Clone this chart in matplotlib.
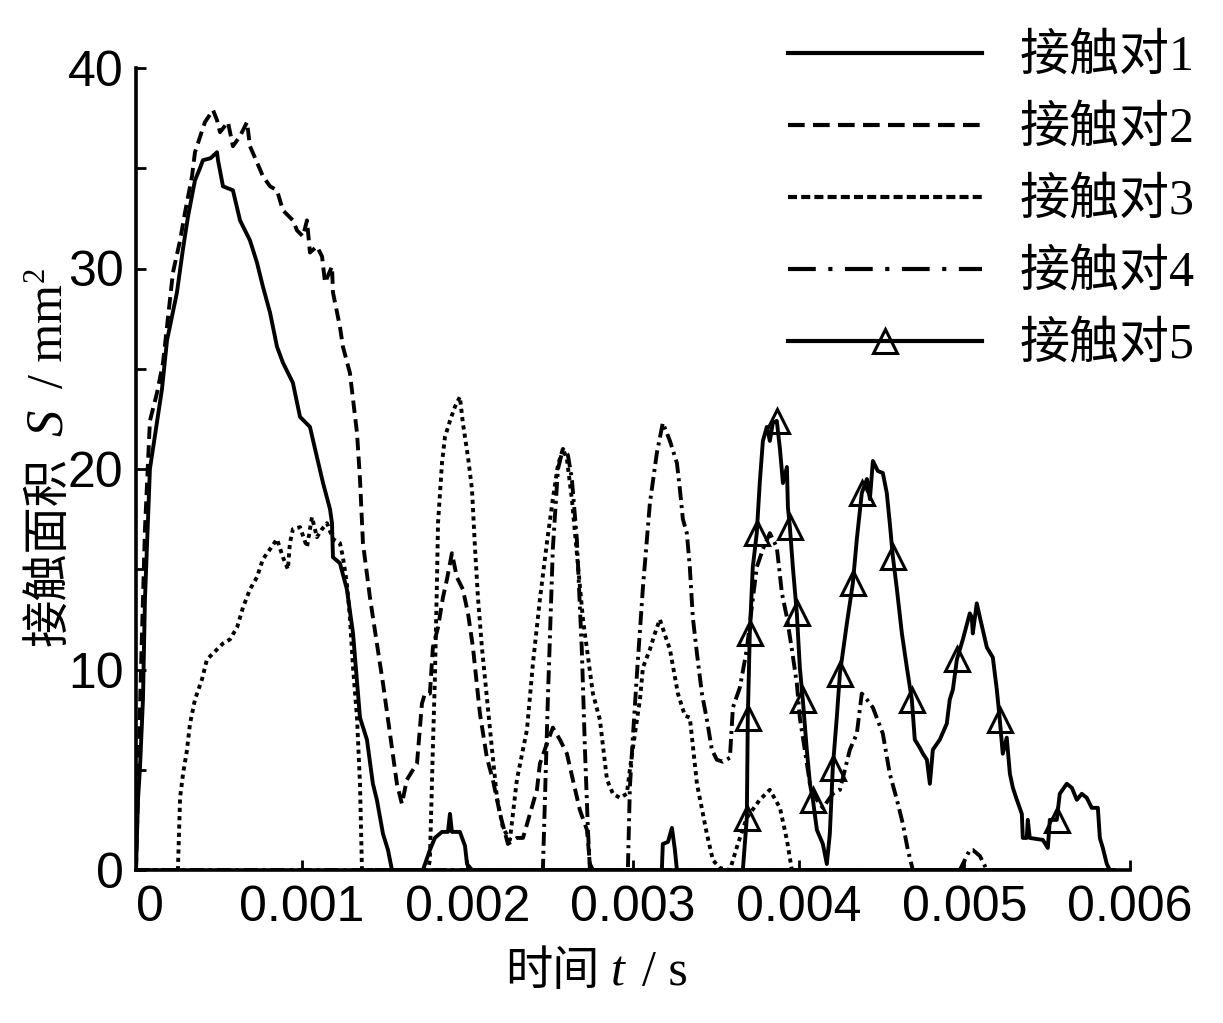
import numpy as np
import matplotlib
matplotlib.use("Agg")
import matplotlib.pyplot as plt
from matplotlib.lines import Line2D

# contact area S (mm^2) against time t (ms)
t1 = [0, 0.012, 0.024, 0.042, 0.054, 0.084, 0.157, 0.187, 0.247, 0.284,
      0.314, 0.356, 0.386, 0.404, 0.450, 0.489, 0.495, 0.525, 0.585, 0.628,
      0.688, 0.730, 0.766, 0.809, 0.851, 0.887, 0.947, 0.990, 1.050, 1.092,
      1.129, 1.171, 1.183, 1.189, 1.231, 1.273, 1.310, 1.352, 1.394, 1.430,
      1.454, 1.491, 1.521, 1.545,
      1.732, 1.774, 1.804, 1.847, 1.883, 1.895, 1.907, 1.955, 1.986, 1.998, 2.028,
      3.174, 3.180, 3.211, 3.235, 3.253, 3.265, 5.900]
s1 = [0, 3.5, 5.1, 8.5, 13.5, 20.0, 24.0, 26.4, 28.8, 31.0,
      32.6, 34.4, 35.0, 35.4, 35.5, 35.8, 35.4, 34.1, 33.9, 32.4,
      31.4, 30.3, 29.1, 27.8, 26.1, 25.3, 24.3, 22.6, 22.1, 20.6,
      19.3, 18.0, 17.3, 15.6, 15.3, 14.0, 11.8, 7.6, 6.5, 4.3,
      3.5, 1.8, 1.0, 0,
      0, 1.0, 1.6, 1.9, 1.9, 2.8, 1.9, 1.9, 1.2, 0.3, 0,
      0, 1.3, 1.4, 2.1, 1.0, 0, 0]

t2 = [0, 0.012, 0.030, 0.054, 0.084, 0.127, 0.163, 0.223, 0.266, 0.296,
      0.338, 0.356, 0.416, 0.465, 0.489, 0.507, 0.555, 0.585, 0.628, 0.670,
      0.688, 0.730, 0.766, 0.809, 0.851, 0.887, 0.947, 0.972, 1.008, 1.032,
      1.050, 1.092, 1.123, 1.141, 1.183, 1.189, 1.231, 1.249, 1.291, 1.334,
      1.352, 1.370, 1.412, 1.454, 1.491, 1.533, 1.575, 1.605, 1.635, 1.672,
      1.696, 1.726, 1.744, 1.774, 1.792, 1.823, 1.853, 1.877, 1.907, 1.937,
      1.973, 2.004, 2.034, 2.076, 2.118, 2.154, 2.197, 2.245, 2.299, 2.336,
      2.378, 2.420, 2.438, 2.480, 2.516, 2.559, 2.601, 2.637, 2.679, 2.722,
      2.740, 2.758, 5.900]
s2 = [0, 4, 10, 17, 22.4, 23.8, 25.3, 29.8, 31.4, 32.8,
      34.6, 35.8, 37.3, 37.9, 37.4, 36.8, 37.3, 36.1, 36.6, 37.3,
      36.1, 35.3, 34.6, 34.1, 33.9, 32.9, 32.4, 31.9, 31.6, 32.4,
      30.8, 31.1, 30.6, 29.3, 30.1, 28.8, 27.1, 26.1, 24.8, 21.8,
      19.5, 16.3, 13.6, 11.3, 9.3, 6.8, 4.3, 3.3, 4.5, 5.0,
      5.3, 8.3, 8.8, 8.8, 11.1, 12.1, 13.6, 14.5, 15.8, 14.6,
      14.0, 12.8, 11.1, 7.8, 5.6, 4.5, 2.8, 1.3, 1.6, 1.6,
      2.8, 4.0, 5.3, 6.3, 7.1, 6.5, 5.8, 4.5, 3.0, 2.0,
      0.3, 0, 0]

t3 = [0, 0.253, 0.266, 0.284, 0.308, 0.326, 0.356, 0.398, 0.428, 0.489,
      0.525, 0.567, 0.610, 0.646, 0.688, 0.730, 0.766, 0.809, 0.851, 0.887,
      0.917, 0.929, 0.947, 0.990, 1.032, 1.062, 1.092, 1.123, 1.153, 1.189,
      1.231, 1.249, 1.273, 1.291, 1.310, 1.334, 1.352, 1.364, 1.762, 1.774,
      1.792, 1.804, 1.817, 1.823, 1.847, 1.865, 1.895, 1.925, 1.955, 1.973,
      2.004, 2.028, 2.046, 2.064, 2.088, 2.118, 2.148, 2.179, 2.215, 2.257,
      2.299, 2.360, 2.396, 2.438, 2.480, 2.516, 2.547, 2.577, 2.601, 2.631,
      2.661, 2.698, 2.758, 2.800, 2.843, 2.879, 2.921, 2.963, 2.981, 3.024,
      3.042, 3.060, 3.102, 3.132, 3.162, 3.198, 3.223, 3.271, 3.313, 3.343,
      3.386, 3.446, 3.482, 3.524, 3.585, 3.633, 3.687, 3.765, 3.826, 3.887,
      3.929, 3.959, 5.900]
s3 = [0, 0, 3.6, 4.8, 6.0, 7.3, 8.5, 9.5, 10.5, 11.0,
      11.3, 11.5, 12.1, 13.1, 14.0, 14.6, 15.5, 16.0, 16.5, 15.6,
      15.0, 16.3, 17.0, 17.1, 16.1, 17.6, 16.6, 17.0, 17.3, 16.5,
      16.3, 15.6, 14.3, 12.6, 10.1, 7.6, 4.3, 0, 0, 0.5,
      6.1, 9.5, 14.5, 17.3, 20.3, 21.6, 22.4, 23.1, 23.6, 22.3,
      20.6, 19.0, 16.1, 13.6, 11.1, 8.6, 6.1, 3.6, 2.1, 1.5,
      4.5, 7.0, 10.3, 13.5, 16.3, 18.5, 20.2, 21.0, 20.5, 18.5,
      15.8, 12.5, 8.8, 7.5, 4.5, 3.8, 3.6, 3.8, 5.0, 7.5,
      8.5, 10.1, 11.0, 11.8, 12.5, 11.6, 11.0, 8.8, 7.7, 7.6,
      4.3, 1.8, 0.5, 0.1, 0, 1.3, 2.6, 3.5, 4.0, 3.1,
      1.5, 0, 0]

t4 = [0, 2.456, 2.486, 2.516, 2.547, 2.577, 2.607, 2.631, 2.661, 2.691,
      2.710, 2.728, 2.740, 2.969, 2.981, 2.999, 3.024, 3.060, 3.102, 3.144,
      3.180, 3.223, 3.265, 3.283, 3.301, 3.325, 3.343, 3.361, 3.386, 3.416,
      3.446, 3.476, 3.506, 3.542, 3.585, 3.603, 3.645, 3.687, 3.717, 3.747,
      3.784, 3.826, 3.868, 3.899, 3.929, 3.959, 3.989, 4.007, 4.037, 4.068,
      4.110, 4.146, 4.206, 4.249, 4.309, 4.351, 4.381, 4.412, 4.448, 4.508,
      4.550, 4.593, 4.629, 4.659, 4.689, 4.973, 5.033, 5.051, 5.094, 5.136,
      5.900]
s4 = [0, 0, 8.5, 16.0, 20.0, 21.0, 20.7, 19.5, 16.5, 11.0,
      6.0, 2.0, 0, 0, 4.1, 6.6, 9.8, 14.1, 18.3, 20.8,
      22.3, 21.4, 20.3, 19.0, 17.5, 16.8, 15.1, 12.6, 10.8, 8.8,
      7.5, 6.0, 5.5, 5.4, 5.6, 8.1, 9.1, 11.0, 13.1, 15.1,
      16.0, 16.8, 16.1, 13.8, 12.6, 11.0, 9.3, 7.6, 6.0, 4.3,
      3.5, 3.1, 3.8, 4.0, 6.0, 6.8, 8.8, 8.5, 8.1, 6.8,
      4.8, 3.5, 2.3, 1.0, 0, 0, 1.0, 1.0, 0.7, 0,
      0]

t5 = [3.663, 3.687, 3.693, 3.705, 3.723, 3.747, 3.765, 3.784, 3.808, 3.826,
      3.844, 3.868, 3.887, 3.905, 3.929, 3.935, 3.947, 3.965, 3.989, 4.007,
      4.025, 4.049, 4.068, 4.086, 4.110, 4.146, 4.170, 4.188, 4.206, 4.230,
      4.249, 4.291, 4.327, 4.351, 4.381, 4.412, 4.430, 4.448, 4.478, 4.508,
      4.532, 4.550, 4.569, 4.593, 4.623, 4.653, 4.683, 4.701, 4.731, 4.750,
      4.774, 4.792, 4.810, 4.852, 4.894, 4.912, 4.931, 4.955, 4.991, 5.033,
      5.045, 5.051, 5.075, 5.094, 5.136, 5.172, 5.196, 5.214, 5.232, 5.256,
      5.275, 5.293, 5.317, 5.347, 5.353, 5.377, 5.383, 5.395, 5.474, 5.504,
      5.516, 5.558, 5.576, 5.618, 5.649, 5.679, 5.709, 5.739, 5.769, 5.806,
      5.818, 5.836, 5.860, 5.878]
s5 = [0, 2.6, 7.6, 11.8, 15.1, 16.8, 19.3, 21.4, 22.1, 21.4,
      22.3, 22.4, 21.0, 19.3, 20.1, 18.1, 17.1, 15.1, 12.8, 10.1,
      8.5, 6.0, 4.3, 3.5, 2.0, 1.3, 0.3, 1.8, 5.1, 7.6,
      9.8, 12.3, 14.3, 16.5, 18.8, 19.5, 18.5, 20.4, 19.9, 19.8,
      18.8, 17.3, 15.6, 14.0, 11.8, 10.1, 8.5, 6.5, 6.1, 5.8,
      5.5, 4.3, 6.0, 6.5, 7.3, 8.5, 9.0, 10.5, 11.5, 12.8,
      12.6, 11.8, 13.3, 12.6, 11.1, 10.6, 9.0, 7.5, 5.8, 6.6,
      4.8, 4.1, 3.5, 2.8, 1.6, 1.6, 2.5, 1.6, 1.5, 1.1,
      2.5, 2.5, 3.8, 4.3, 4.1, 3.5, 3.8, 3.6, 3.1, 3.1,
      1.6, 1.1, 0.3, 0]

labels = ["接触对1", "接触对2", "接触对3", "接触对4", "接触对5"]
x_ticks = [0, 0.001, 0.002, 0.003, 0.004, 0.005, 0.006]
x_tick_labels = ["0", "0.001", "0.002", "0.003", "0.004", "0.005", "0.006"]
y_ticks = [0, 10, 20, 30, 40]
y_minor_ticks = [5, 15, 25, 35]

# where the triangles sit on curve 5 (indices into t5)
marker_idx_5 = [1, 2, 3, 5, 11, 16, 18, 20, 23, 28, 30, 32, 34, 42, 46, 57, 67, 81]

CJK_SERIF = ["Liberation Serif", "Noto Sans CJK SC"]
FS = 34
TICK_FS = 36

plt.rcParams["lines.scale_dashes"] = False

fig = plt.figure(figsize=(12.23, 10.23), dpi=100)
ax = fig.add_axes([136 / 1223, 153 / 1023, 994 / 1223, 802 / 1023])

lw = 2.8
tri = dict(marker="^", markersize=17, markerfacecolor="none", markeredgewidth=2.2,
           markeredgecolor="black")
ax.plot(np.array(t1) / 1000, s1, color="black", lw=lw, ls="-")
ax.plot(np.array(t2) / 1000, s2, color="black", lw=lw, ls=(0, (9, 4.5)))
ax.plot(np.array(t3) / 1000, s3, color="black", lw=lw, ls=(0, (3, 3)))
ax.plot(np.array(t4) / 1000, s4, color="black", lw=lw, ls=(0, (10, 3.6, 2.2, 3.6)))
ax.plot(np.array(t5) / 1000, s5, color="black", lw=lw, ls="-", markevery=marker_idx_5, **tri)

ax.set_xlim(0, 0.006)
ax.set_ylim(0, 40)
ax.spines["top"].set_visible(False)
ax.spines["right"].set_visible(False)
for side in ["left", "bottom"]:
    ax.spines[side].set_linewidth(2.6)

ax.set_xticks(x_ticks)
ax.set_xticklabels(x_tick_labels, family="Liberation Sans", fontsize=TICK_FS)
ax.get_xticklabels()[0].set_ha("left")
ax.set_yticks(y_ticks)
ax.set_yticks(y_minor_ticks, minor=True)
ax.set_yticklabels([str(v) for v in y_ticks], family="Liberation Sans", fontsize=TICK_FS)
ax.tick_params(axis="both", which="both", direction="in", length=7, width=2)
ax.tick_params(axis="x", pad=11)
ax.tick_params(axis="y", pad=9)

# x label: 时间 t / s
fig.text(505 / 1223, 1 - 985 / 1023, "时间", family=CJK_SERIF, fontsize=FS, va="baseline")
fig.text(611 / 1223, 1 - 985 / 1023, "t", family="Liberation Serif", style="italic",
         fontsize=36, va="baseline")
fig.text(642 / 1223, 1 - 985 / 1023, "/ s", family="Liberation Serif", fontsize=36, va="baseline")

# y label: 接触面积 S / mm2, written upwards
yl = dict(rotation=90, rotation_mode="anchor", ha="left", va="baseline")
fig.text(62 / 1223, 1 - 646 / 1023, "接触面积", family=CJK_SERIF, fontsize=FS, **yl)
fig.text(62 / 1223, 1 - 436 / 1023, "S", family="Liberation Serif", style="italic",
         fontsize=38, **yl)
fig.text(62 / 1223, 1 - 388 / 1023, "/ mm", family="Liberation Serif", fontsize=36, **yl)
fig.text(44 / 1223, 1 - 282 / 1023, "2", family="Liberation Serif", fontsize=22, **yl)

handles = [
    Line2D([], [], color="black", lw=3, ls="-"),
    Line2D([], [], color="black", lw=3, ls=(0, (12, 6))),
    Line2D([], [], color="black", lw=3, ls=(0, (6.5, 3))),
    Line2D([], [], color="black", lw=3, ls=(0, (20, 9, 3, 9))),
    Line2D([], [], color="black", lw=3, ls="-", **tri),
]
fig.legend(handles, labels, loc="upper left", bbox_to_anchor=(788 / 1223, 1 - 34 / 1023),
           frameon=False, borderpad=0, borderaxespad=0, handlelength=3.88,
           handletextpad=0.76, labelspacing=0.5, numpoints=1,
           prop={"family": CJK_SERIF, "size": 36})

fig.savefig("out.png", dpi=100)
